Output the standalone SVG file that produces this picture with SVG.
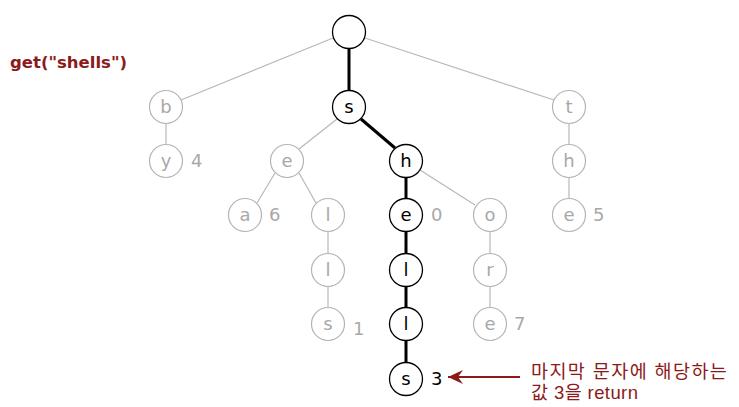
<svg xmlns="http://www.w3.org/2000/svg" width="739" height="407" viewBox="0 0 739 407">
<defs>
<style>
.n circle{fill:#fff;stroke:#b4b4b4;stroke-width:1.2}
.n text{fill:#a8a8a8}
.a circle{fill:#fff;stroke:#000;stroke-width:1.3}
.a text{fill:#000}
text{font-family:"DejaVu Sans","Liberation Sans",sans-serif;font-size:18px;text-anchor:middle}
g text.v{fill:#a8a8a8;text-anchor:start}
g text.v3{fill:#000;text-anchor:start}
.g{stroke:#b8b8b8;stroke-width:1.2;fill:none}
.k{stroke:#000;stroke-width:3;fill:none}
.red{fill:#8b1a1a}
.note{text-anchor:start;font-size:18.5px;font-family:"Liberation Sans","Noto Sans CJK KR",sans-serif;letter-spacing:1.4px}
.note2{letter-spacing:0.4px}
</style>
<marker id="ah" markerWidth="16" markerHeight="14" refX="15" refY="7" orient="auto" markerUnits="userSpaceOnUse">
<path d="M15,7 L0,0 L5,7 L0,14 Z" fill="#8b1a1a"/>
</marker>
</defs>
<text x="10" y="68" class="red" style="font-family:'DejaVu Sans',sans-serif;font-weight:bold;font-size:16.5px;text-anchor:start">get("shells")</text>
<g id="connectors">
<line class="g" x1="333" y1="38" x2="181" y2="100"/>
<line class="g" x1="365" y1="38" x2="554" y2="100"/>
<line class="g" x1="166" y1="124" x2="166" y2="144"/>
<line class="g" x1="337" y1="119" x2="299" y2="149"/>
<line class="g" x1="569" y1="124" x2="569" y2="144"/>
<line class="g" x1="569" y1="178" x2="569" y2="198"/>
<line class="g" x1="275" y1="173" x2="257" y2="203"/>
<line class="g" x1="299" y1="173" x2="316" y2="203"/>
<line class="g" x1="328" y1="232" x2="328" y2="253"/>
<line class="g" x1="328" y1="287" x2="328" y2="307"/>
<line class="g" x1="420" y1="170" x2="475" y2="205"/>
<line class="g" x1="490" y1="232" x2="490" y2="253"/>
<line class="g" x1="490" y1="287" x2="490" y2="307"/>
<line class="k" x1="349" y1="49" x2="349" y2="90"/>
<line class="k" x1="361" y1="119" x2="395" y2="148"/>
<line class="k" x1="406" y1="178" x2="406" y2="198"/>
<line class="k" x1="406" y1="232" x2="406" y2="253"/>
<line class="k" x1="406" y1="287" x2="406" y2="307"/>
<line class="k" x1="406" y1="341" x2="406" y2="362"/>
<line x1="520" y1="377" x2="448" y2="377" stroke="#8b1a1a" stroke-width="2.2" marker-end="url(#ah)"/>
</g>
<g id="root" class="a"><circle cx="349" cy="32" r="16.5"/></g>
<g id="n-s" class="a"><circle cx="349" cy="107" r="16.5"/><text x="349" y="113">s</text></g>
<g id="n-b" class="n"><circle cx="166" cy="107" r="16.5"/><text x="166" y="113">b</text></g>
<g id="n-t" class="n"><circle cx="569" cy="107" r="16.5"/><text x="569" y="113">t</text></g>
<g id="n-by" class="n"><circle cx="166" cy="161" r="16.5"/><text x="166" y="167">y</text><text class="v" x="191" y="167">4</text></g>
<g id="n-se" class="n"><circle cx="287" cy="161" r="16.5"/><text x="287" y="167">e</text></g>
<g id="n-sh" class="a"><circle cx="406" cy="161" r="16.5"/><text x="406" y="167">h</text></g>
<g id="n-th" class="n"><circle cx="569" cy="161" r="16.5"/><text x="569" y="167">h</text></g>
<g id="n-sea" class="n"><circle cx="245" cy="215" r="16.5"/><text x="245" y="221">a</text><text class="v" x="269" y="221">6</text></g>
<g id="n-sel" class="n"><circle cx="328" cy="215" r="16.5"/><text x="328" y="221">l</text></g>
<g id="n-she" class="a"><circle cx="406" cy="215" r="16.5"/><text x="406" y="221">e</text><text class="v" x="431" y="221">0</text></g>
<g id="n-sho" class="n"><circle cx="490" cy="215" r="16.5"/><text x="490" y="221">o</text></g>
<g id="n-the" class="n"><circle cx="569" cy="215" r="16.5"/><text x="569" y="221">e</text><text class="v" x="593" y="221">5</text></g>
<g id="n-sell" class="n"><circle cx="328" cy="270" r="16.5"/><text x="328" y="276">l</text></g>
<g id="n-shel" class="a"><circle cx="406" cy="270" r="16.5"/><text x="406" y="276">l</text></g>
<g id="n-shor" class="n"><circle cx="490" cy="270" r="16.5"/><text x="490" y="276">r</text></g>
<g id="n-sells" class="n"><circle cx="328" cy="324" r="16.5"/><text x="328" y="330">s</text><text class="v" x="353" y="335">1</text></g>
<g id="n-shell" class="a"><circle cx="406" cy="324" r="16.5"/><text x="406" y="330">l</text></g>
<g id="n-shore" class="n"><circle cx="490" cy="324" r="16.5"/><text x="490" y="330">e</text><text class="v" x="514" y="330">7</text></g>
<g id="n-shells" class="a"><circle cx="406" cy="379" r="16.5"/><text x="406" y="385">s</text><text class="v3" x="431" y="385">3</text></g>
<g id="note">
<text class="red note" x="531" y="378">마지막 문자에 해당하는</text>
<text class="red note note2" x="531" y="399">값 3을 return</text>
</g>
</svg>
